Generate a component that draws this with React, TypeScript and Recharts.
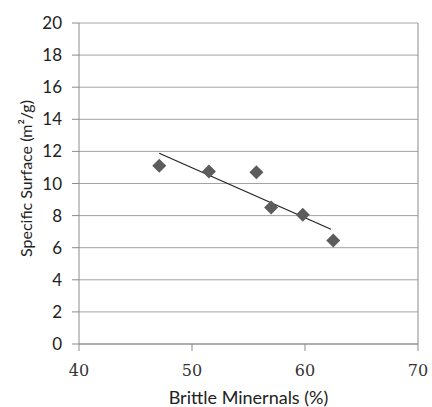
import React from 'react';
import { ScatterChart, Scatter, XAxis, YAxis, CartesianGrid, ReferenceLine } from 'recharts';

const brittle = [47.1, 51.5, 55.7, 57.0, 59.8, 62.5];
const surface = [11.1, 10.75, 10.7, 8.5, 8.05, 6.45];
const trendX = [47.1, 62.3];
const trendY = [11.88, 7.15];
const xTicks = [40, 50, 60, 70];
const yTicks = [0, 2, 4, 6, 8, 10, 12, 14, 16, 18, 20];

const points = brittle.map((x, i) => ({ x, y: surface[i] }));
const trend = trendX.map((x, i) => ({ x, y: trendY[i] }));

const Diamond = (props: any) => {
  const { cx, cy } = props;
  const h = 7;
  return (
    <polygon
      points={`${cx},${cy - h} ${cx + h},${cy} ${cx},${cy + h} ${cx - h},${cy}`}
      fill="#5c5c5c"
    />
  );
};

const NoDot = () => <g />;

const YTitle = (props: any) => {
  const { viewBox } = props;
  const cx = 25;
  const cy = viewBox.y + viewBox.height / 2 - 5;
  return (
    <text
      x={cx}
      y={cy}
      transform={`rotate(-90 ${cx} ${cy})`}
      textAnchor="middle"
      dominantBaseline="central"
      fontFamily="Lato"
      fontSize={16}
      fill="#222"
    >
      Specific Surface (m²/g)
    </text>
  );
};

export default function App() {
  return (
    <div style={{ position: 'absolute', left: 0, top: 0, background: '#fff' }}>
      <ScatterChart width={432} height={407} margin={{ top: 23, right: 14, bottom: 0, left: 0 }}>
        <CartesianGrid horizontal vertical={false} stroke="#a3a3a3" />
        <XAxis
          type="number"
          dataKey="x"
          domain={[40, 70]}
          ticks={xTicks}
          allowDataOverflow
          height={63}
          tickSize={7}
          tickMargin={14}
          stroke="#8c8c8c"
          tick={{ fontFamily: 'DejaVu Serif', fontSize: 16, fill: '#333' }}
          label={{
            value: 'Brittle Minernals (%)',
            position: 'insideBottom',
            offset: 3,
            fontFamily: 'Lato',
            fontSize: 18,
            fill: '#222',
          }}
        />
        <YAxis
          type="number"
          dataKey="y"
          domain={[0, 20]}
          ticks={yTicks}
          width={79}
          tickSize={7}
          tickMargin={10}
          stroke="#8c8c8c"
          tick={{ fontFamily: 'Lato', fontSize: 17, fill: '#222' }}
          label={{ content: YTitle }}
        />
        <ReferenceLine x={70} stroke="#8c8c8c" />
        <Scatter
          data={trend}
          line={{ stroke: '#222', strokeWidth: 1.2 }}
          shape={NoDot}
          isAnimationActive={false}
        />
        <Scatter data={points} shape={Diamond} isAnimationActive={false} />
      </ScatterChart>
    </div>
  );
}
